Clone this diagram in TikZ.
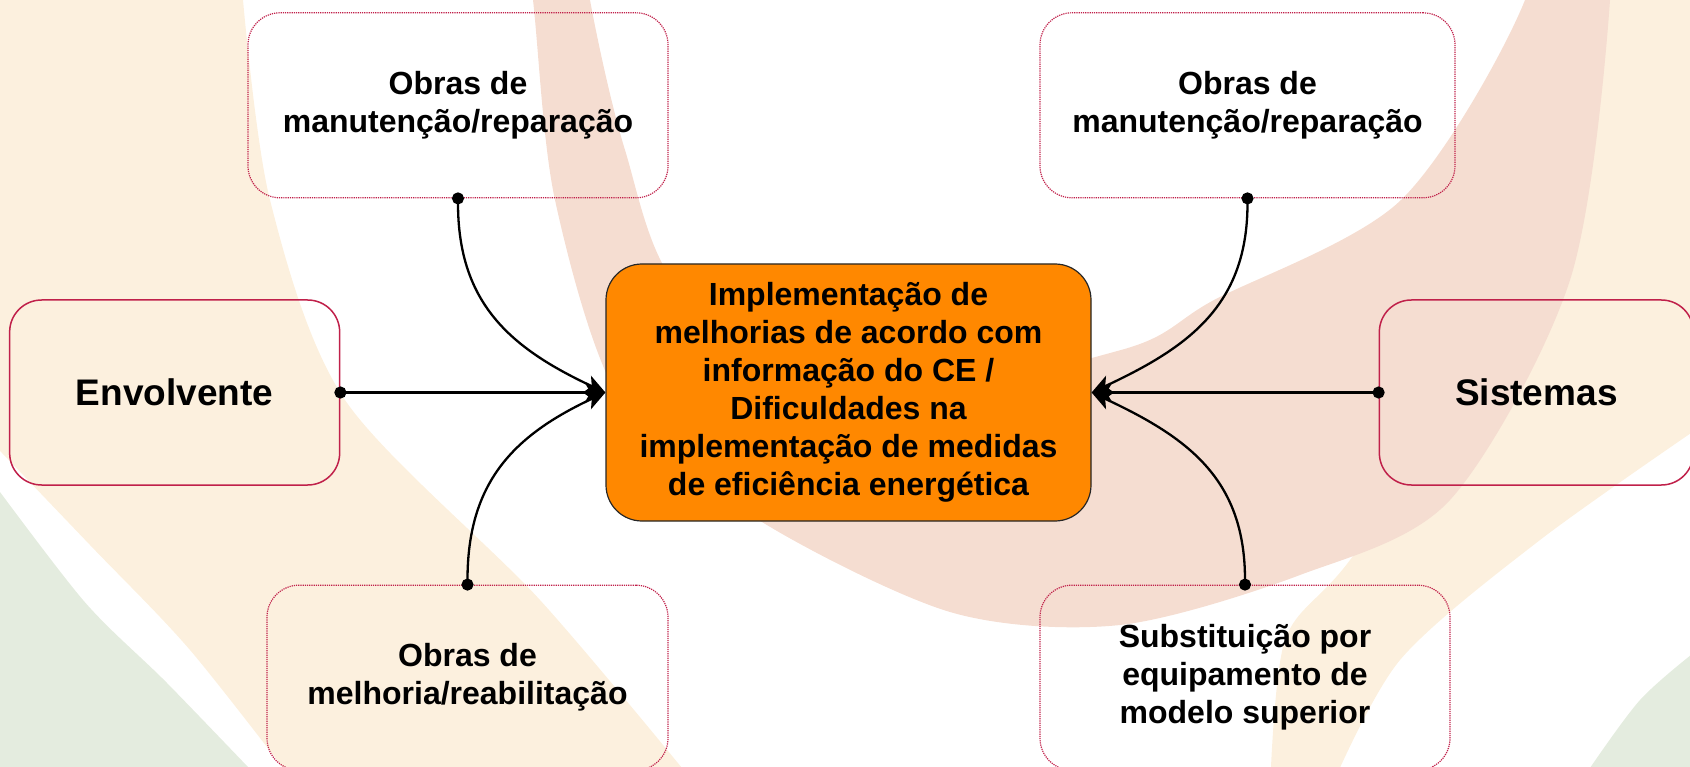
\documentclass[tikz,border=0pt]{standalone}
\usepackage{fontspec}
\setmainfont{Liberation Sans}
\usepackage{xcolor}
\usetikzlibrary{arrows.meta,positioning}

\definecolor{boxred}{HTML}{C0204A}
\definecolor{coreorange}{HTML}{FF8800}
\definecolor{bgcream}{HTML}{FCF0DE}
\definecolor{bgsalmon}{HTML}{F5DDD1}
\definecolor{bggreen}{HTML}{E4ECDF}

\begin{document}
\begin{tikzpicture}[
  x=1pt, y=-1pt,
  font=\bfseries\fontsize{32}{38}\selectfont,
  node distance=65pt and 265pt,
  core/.style={draw=black!85,line width=1.2pt,fill=coreorange,rounded corners=36pt,minimum width=485pt,minimum height=257pt,align=center,inner sep=0pt},
  area/.style={draw=boxred,line width=1.5pt,rounded corners=32pt,minimum width=330pt,minimum height=185pt,align=center,font=\bfseries\fontsize{37}{44}\selectfont},
  works/.style={draw=boxred,line width=1.2pt,densely dotted,rounded corners=32pt,minimum height=185pt,align=center,inner sep=0pt},
  arrow/.style={{Circle[length=12pt]}-{Stealth[length=20pt,width=18pt,inset=5pt]},line width=3pt,shorten <=-6pt},
  curved/.style={arrow,line width=2.3pt},
]
\useasboundingbox (0,0) rectangle (1690,767);

% background swooshes
\begin{scope}
\clip (0,0) rectangle (1690,767);
\fill[bggreen] plot[smooth] coordinates {(-20,465) (83,600) (167,683) (270,790)} -- (-20,790) -- cycle;
\fill[bgcream] (-20,-20) -- (240,-20) -- plot[smooth] coordinates {(243,0) (270,200) (345,400) (540,600) (700,790)}
  -- plot[smooth] coordinates {(300,790) (190,650) (90,545) (-20,430)} -- cycle;
\fill[bgcream] (1560,-20) -- (1710,-20) -- plot[smooth] coordinates {(1710,420) (1540,540) (1400,660) (1330,790)}
  -- plot[smooth] coordinates {(1270,790) (1285,640) (1350,560) (1500,350) (1560,-20)} -- cycle;
\fill[bgsalmon,even odd rule]
  plot[smooth cycle] coordinates {(515,-150) (533,0) (555,200) (620,400) (754,517) (950,612) (1120,625) (1300,575) (1450,500) (1570,280) (1610,0) (1600,-150) (1060,-250)}
  plot[smooth cycle] coordinates {(570,-150) (590,0) (625,150) (680,290) (850,400) (1121,350) (1214,300) (1401,200) (1525,0) (1540,-150) (1060,-230)};
\fill[bggreen] plot[smooth] coordinates {(1710,640) (1640,700) (1575,790)} -- (1710,790) -- cycle;
\end{scope}

\node[core] (centre) at (848.5,392.5) {Implementação de\\melhorias de acordo com\\informação do CE /\\Dificuldades na\\implementação de medidas\\de eficiência energética};
\node[area, left=265pt of centre] (env) {Envolvente};
\node[area, right=287pt of centre, minimum width=314pt] (sis) {Sistemas};
\node[works, minimum width=420pt, above=65pt of centre, xshift=-390.5pt] (mantl) {Obras de\\manutenção/reparação};
\node[works, minimum width=415pt, above=65pt of centre, xshift=399pt] (mantr) {Obras de\\manutenção/reparação};
\node[works, minimum width=401pt, below=63pt of centre, xshift=-381pt] (reab) {Obras de\\melhoria/reabilitação};
\node[works, minimum width=410pt, below=63pt of centre, xshift=396.5pt] (subst) {Substituição por\\equipamento de\\modelo superior};

\draw[arrow] (env.east) -- (centre.west);
\draw[curved] (mantl.south) to[out=-90,in=155,looseness=1.1] (centre.west);
\draw[curved] (reab.north) to[out=90,in=205,looseness=1.1] (centre.west);
\draw[arrow] (sis.west) -- (centre.east);
\draw[curved] (mantr.south) to[out=-90,in=25,looseness=1.1] (centre.east);
\draw[curved] (subst.north) to[out=90,in=-25,looseness=1.1] (centre.east);
\end{tikzpicture}
\end{document}
